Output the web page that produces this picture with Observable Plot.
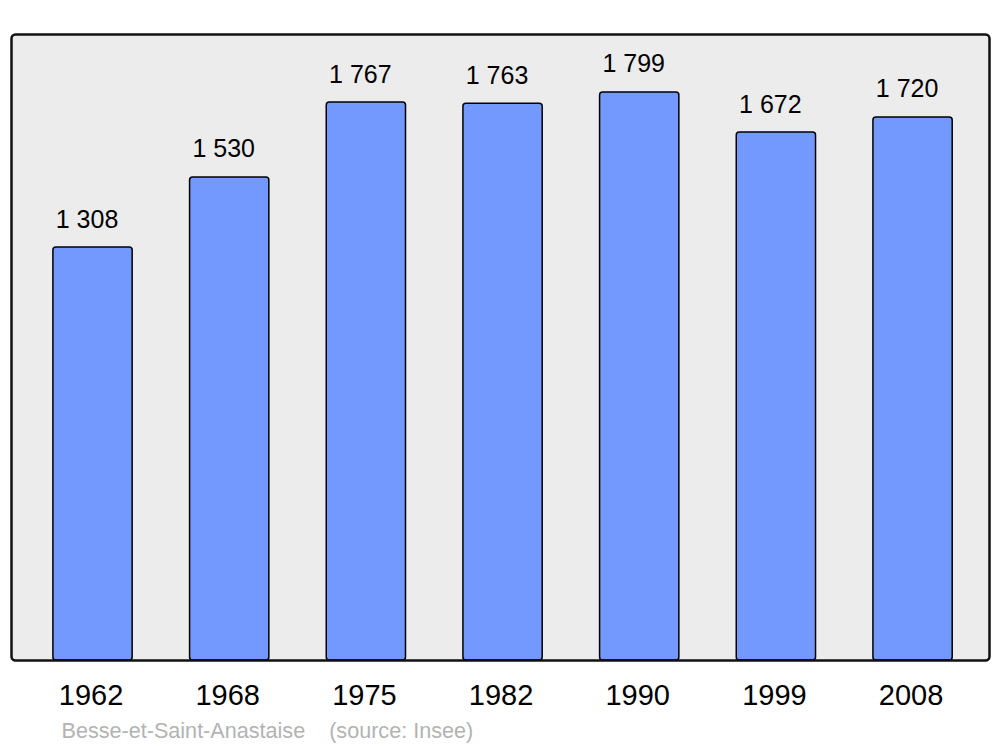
<!DOCTYPE html>
<html>
<head>
<meta charset="utf-8">
<script src="https://cdn.jsdelivr.net/npm/d3@7"></script>
<script src="https://cdn.jsdelivr.net/npm/@observablehq/plot@0.6"></script>
<style>
  html, body { margin: 0; padding: 0; background: #ffffff; }
  #chart svg { display: block; }
</style>
</head>
<body>
<div id="chart"></div>
<script>
const years = ["1962", "1968", "1975", "1982", "1990", "1999", "2008"];
const population = [1308, 1530, 1767, 1763, 1799, 1672, 1720];
const captionText = "Besse-et-Saint-Anastaise    (source: Insee)";

const data = years.map((y, i) => ({year: y, pop: population[i]}));
const fmt = v => d3.format(",")(v).replace(/,/g, "\u00a0");

const chart = Plot.plot({
  width: 1000,
  height: 747,
  marginLeft: 11,
  marginRight: 11,
  marginTop: 34,
  marginBottom: 87,
  style: {fontFamily: "'Liberation Sans', Arial, sans-serif", background: "#ffffff"},
  x: {domain: years, range: [24.2, 980.9], paddingInner: 0.42, paddingOuter: 0.21, round: false},
  y: {domain: [0, 1982.7], axis: null},
  marks: [
    Plot.frame({fill: "#ececec", stroke: null, rx: 4}),
    Plot.barY(data, {x: "year", y: "pop", fill: "#7399ff", stroke: "#000000", strokeWidth: 1.5, rx: 3}),
    Plot.text(data, {x: "year", y: "pop", text: d => fmt(d.pop), lineAnchor: "bottom", dy: -20, dx: -6, fontSize: 25, fill: "#000000"}),
    Plot.frame({stroke: "#111111", strokeWidth: 2.5, rx: 4}),
    Plot.axisX({tickSize: 0, tickPadding: 24, fontSize: 29, dx: -2, fill: "#000000", label: null}),
    Plot.text([captionText], {frameAnchor: "bottom-left", dx: 50, dy: 77, lineAnchor: "bottom", textAnchor: "start", fontSize: 21.6, fill: "#b3b3b3", text: d => d})
  ]
});
document.getElementById("chart").appendChild(chart);
</script>
</body>
</html>
